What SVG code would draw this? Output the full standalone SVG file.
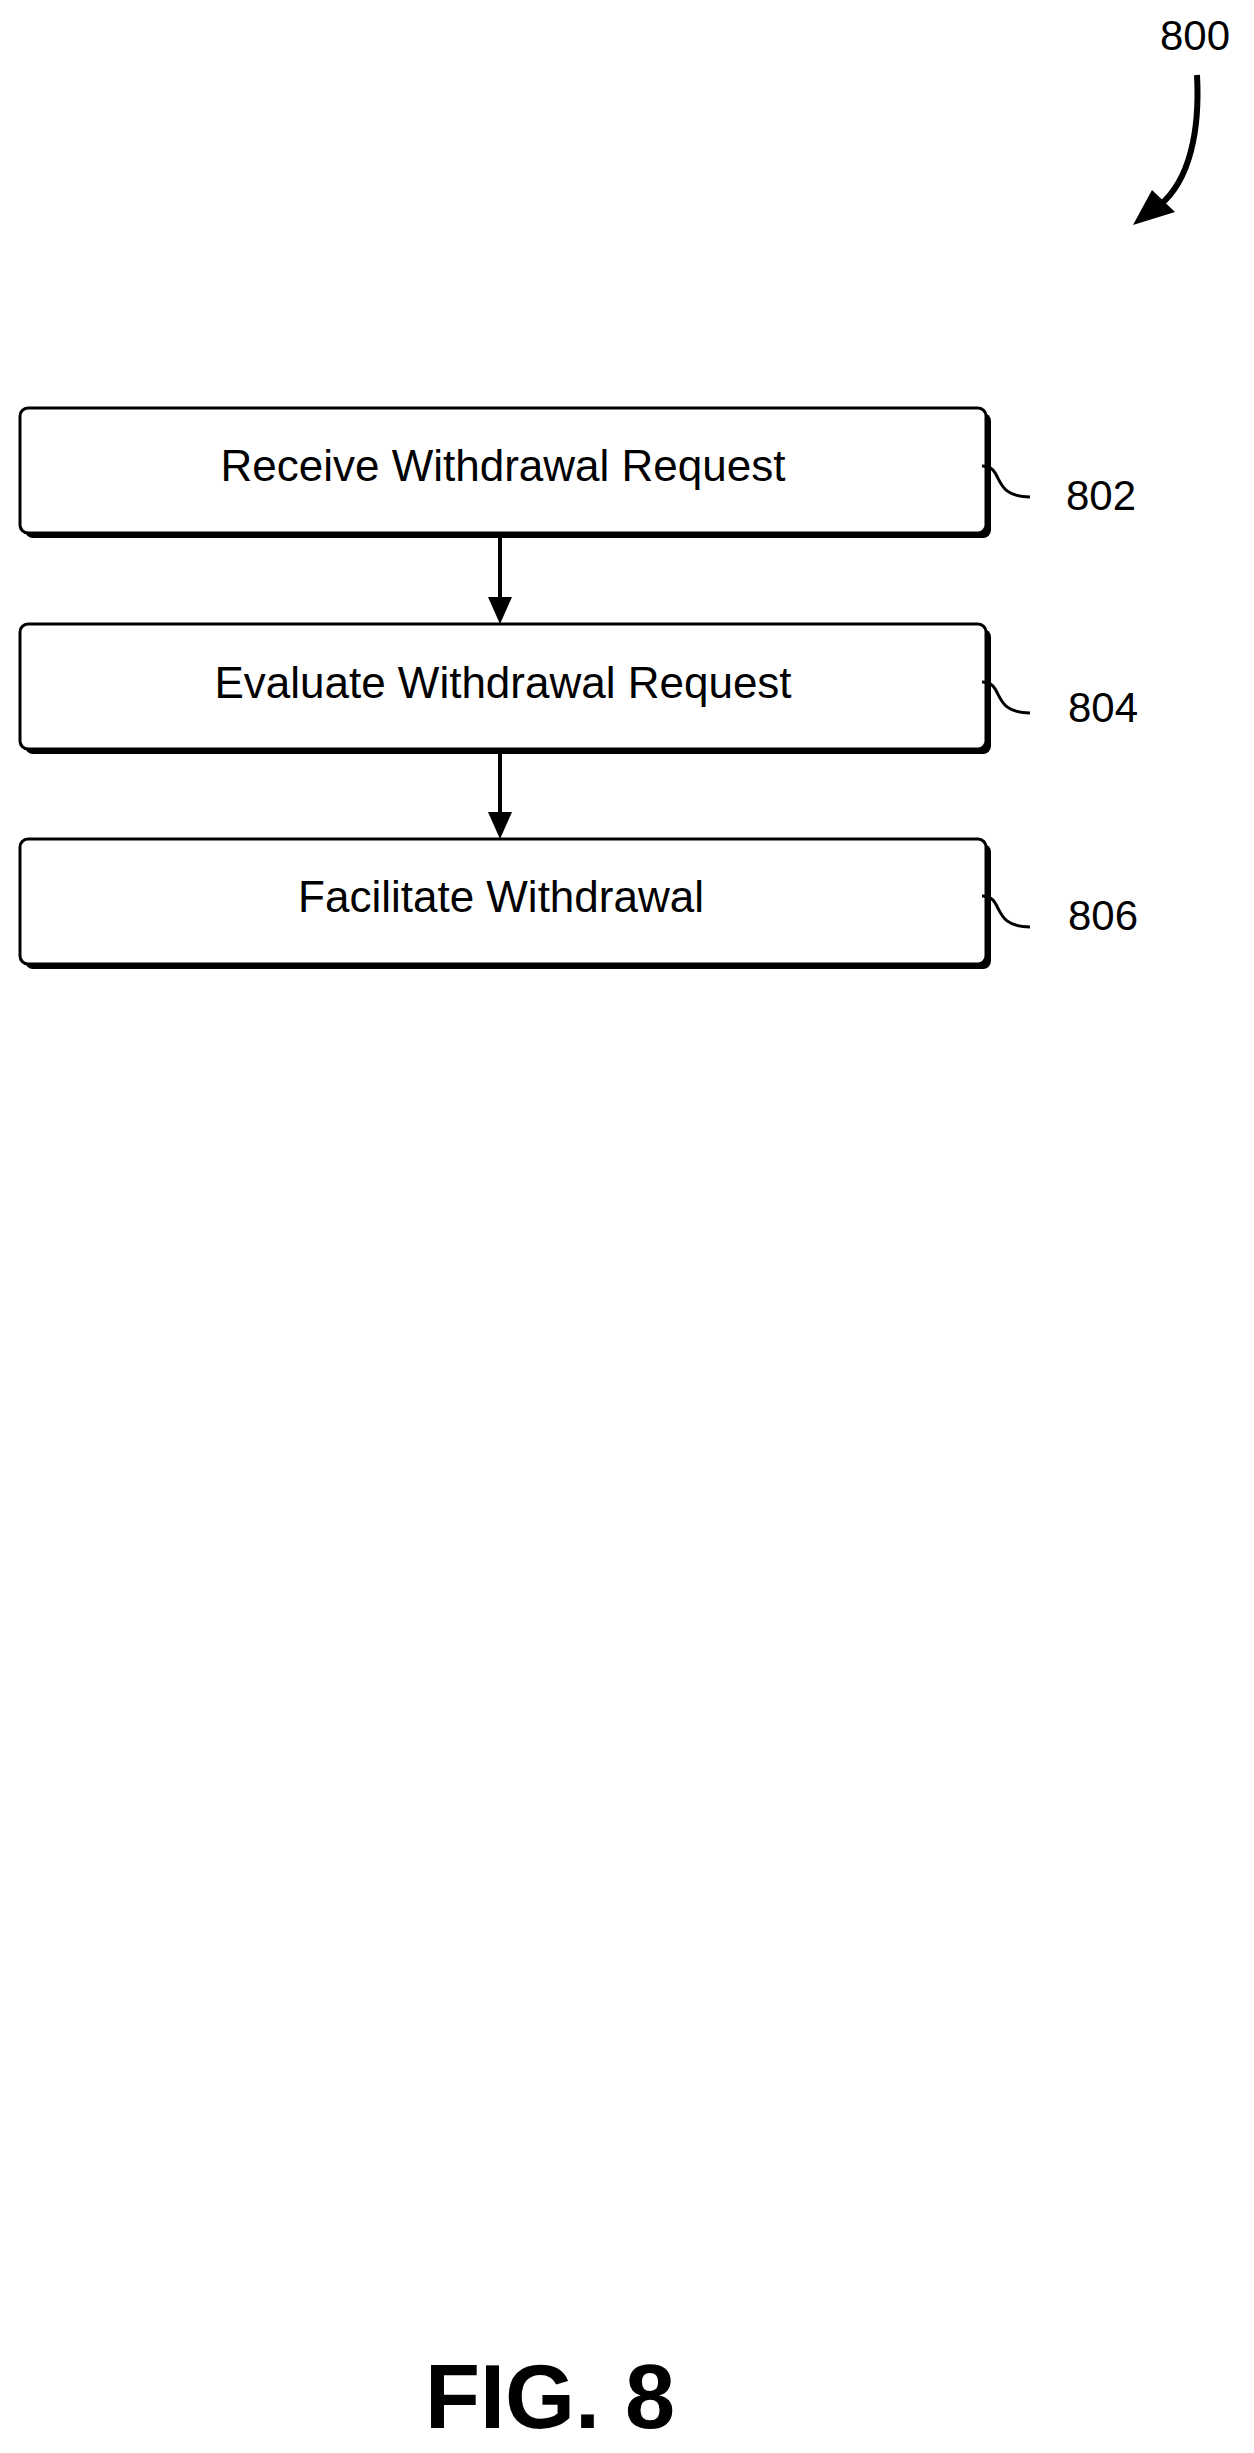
<svg xmlns="http://www.w3.org/2000/svg" width="1254" height="2453" viewBox="0 0 1254 2453">
<defs>
<style>
.box{fill:#fff;stroke:#000;stroke-width:3}
.sh{fill:#000}
.t{font-family:"Liberation Sans",Arial,sans-serif;font-size:44px;text-anchor:middle;fill:#000}
.lb{font-family:"Liberation Sans",Arial,sans-serif;font-size:42px;fill:#000}
.c{fill:none;stroke:#000;stroke-width:3}
</style>
</defs>
<rect width="1254" height="2453" fill="#fff"/>
<g id="ref800">
<text class="lb" x="1160" y="50">800</text>
<path d="M1197,75 C1200,130 1190,180 1160,205" fill="none" stroke="#000" stroke-width="6"/>
<path d="M1133,225 L1152,190 L1175,212 z"/>
</g>
<g id="n802">
<rect class="sh" x="25" y="413" width="966" height="125" rx="8"/>
<rect class="box" x="20" y="408" width="966" height="125" rx="8"/>
<text class="t" x="503" y="481">Receive Withdrawal Request</text>
<path class="c" d="M982,466 C1005,466 990,497 1030,497"/>
<text class="lb" x="1066" y="510">802</text>
</g>
<g id="n804">
<rect class="sh" x="25" y="629" width="966" height="125" rx="8"/>
<rect class="box" x="20" y="624" width="966" height="125" rx="8"/>
<text class="t" x="503" y="698">Evaluate Withdrawal Request</text>
<path class="c" d="M982,682 C1005,682 990,713 1030,713"/>
<text class="lb" x="1068" y="722">804</text>
</g>
<g id="n806">
<rect class="sh" x="25" y="844" width="966" height="125" rx="8"/>
<rect class="box" x="20" y="839" width="966" height="125" rx="8"/>
<text class="t" x="501" y="912">Facilitate Withdrawal</text>
<path class="c" d="M982,896 C1005,896 990,927 1030,927"/>
<text class="lb" x="1068" y="930">806</text>
</g>
<g id="connectors" fill="#000">
<line x1="500" y1="538" x2="500" y2="600" stroke="#000" stroke-width="4"/>
<path d="M488,597 L512,597 L500,624 z"/>
<line x1="500" y1="754" x2="500" y2="815" stroke="#000" stroke-width="4"/>
<path d="M488,812 L512,812 L500,839 z"/>
</g>
<text x="550" y="2428" font-family="Liberation Sans,Arial,sans-serif" font-size="90" font-weight="bold" text-anchor="middle">FIG. 8</text>
</svg>
